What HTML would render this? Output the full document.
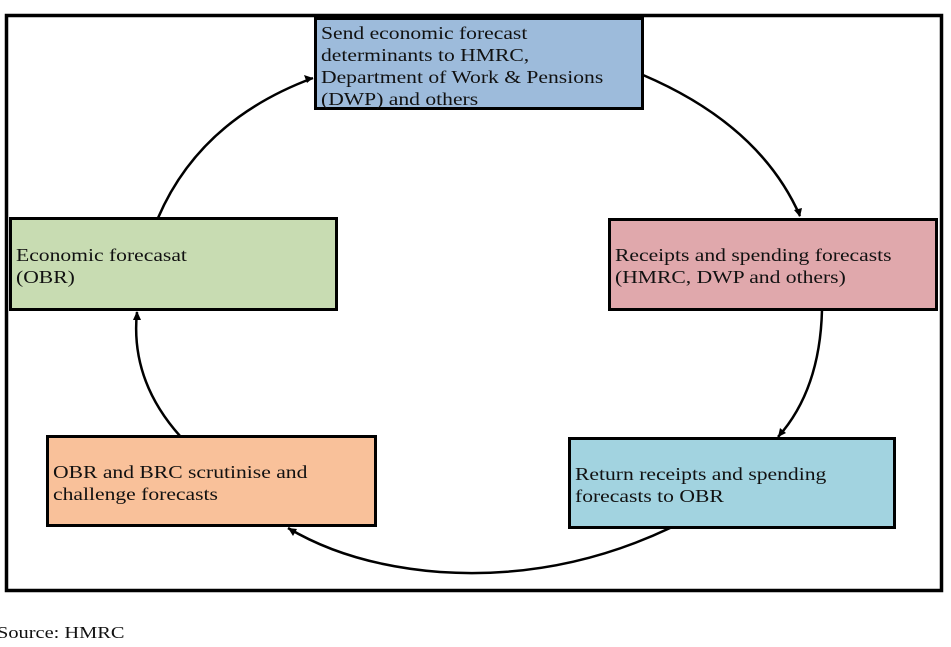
<!DOCTYPE html>
<html><head><style>
body{margin:0;background:#fff;}
.b{position:absolute;border:3px solid #000;box-sizing:border-box;font-family:"Liberation Serif",serif;font-size:18px;line-height:22px;color:#111;padding-left:4px;white-space:nowrap;}
.s{display:inline-block;transform:scaleX(1.2);transform-origin:left top;}
</style></head><body>
<div style="position:relative;width:951px;height:647px;overflow:hidden">
<svg width="951" height="647" style="position:absolute;left:0;top:0">
<rect x="6.5" y="15.5" width="935" height="575" fill="none" stroke="#000" stroke-width="3.5"/>
<g fill="none" stroke="#000" stroke-width="2.5">
<path d="M158,218 Q200,120 313,78"/>
<path d="M643,75 Q760,125 800,216"/>
<path d="M822,310 Q820,390 778,437"/>
<path d="M670,528 Q560,580 440,572 Q350,565 288,528"/>
<path d="M180,436 Q130,380 137,312"/>
</g>
<g fill="#000">
<path d="M313,78 l-9,-3 l3,8z"/>
<path d="M800,217 l-6,-7 l8,-2z"/>
<path d="M778,437 l2,-9 l6,5z"/>
<path d="M288,528 l9,1 l-4,7z"/>
<path d="M137,311 l-4,9 l8,0z"/>
</g>
</svg>
<div class="b" style="left:314px;top:17px;width:330px;height:93px;background:#9dbbdb;padding-top:2px"><span class="s">Send economic forecast<br>determinants to HMRC,<br>Department of Work &amp; Pensions<br>(DWP) and others</span></div>
<div class="b" style="left:9px;top:217px;width:329px;height:94px;background:#c8dcb2;padding-top:24px"><span class="s">Economic forecasat<br>(OBR)</span></div>
<div class="b" style="left:608px;top:218px;width:330px;height:93px;background:#e0a8ac;padding-top:23px"><span class="s">Receipts and spending forecasts<br>(HMRC, DWP and others)</span></div>
<div class="b" style="left:568px;top:437px;width:328px;height:92px;background:#a2d3e0;padding-top:23px"><span class="s">Return receipts and spending<br>forecasts to OBR</span></div>
<div class="b" style="left:46px;top:435px;width:331px;height:92px;background:#f9c19a;padding-top:23px"><span class="s">OBR and BRC scrutinise and<br>challenge forecasts</span></div>
<div style="position:absolute;left:-3px;top:623px;font-family:'Liberation Serif',serif;font-size:17px;color:#111"><span class="s">Source: HMRC</span></div>
</div>
</body></html>
